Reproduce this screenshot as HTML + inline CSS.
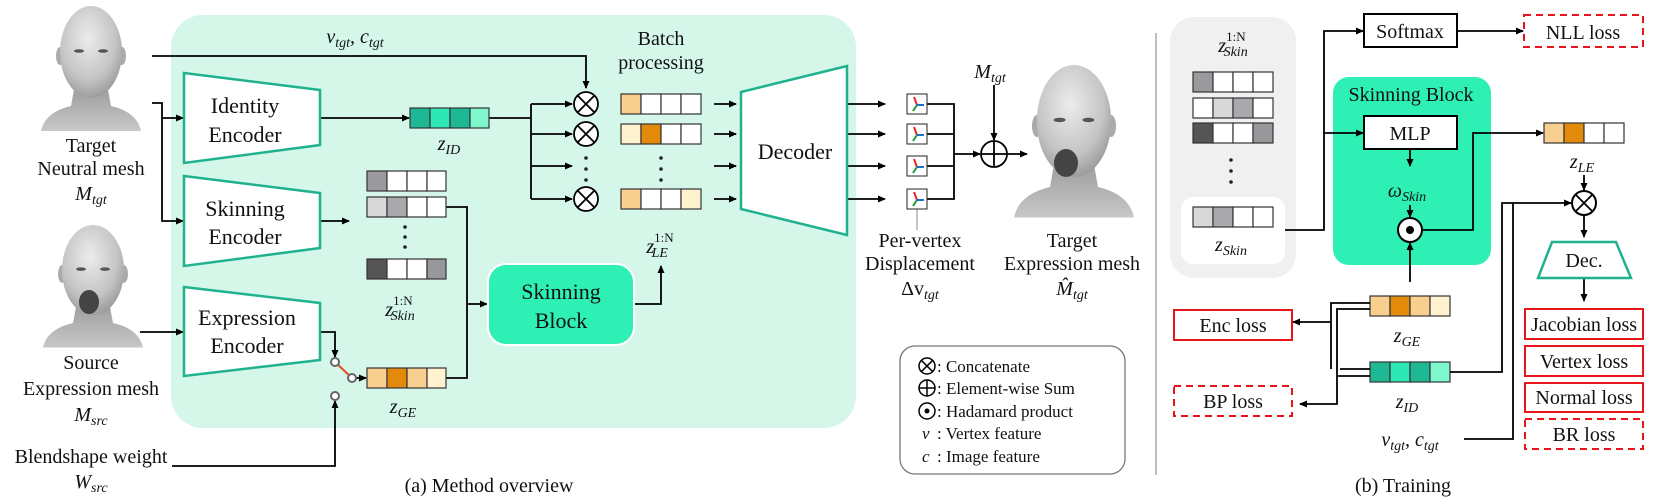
<!DOCTYPE html>
<html><head><meta charset="utf-8"><style>
html,body{margin:0;padding:0;background:#fff;}
svg{display:block;}
text{font-family:"Liberation Serif",serif;fill:#111;}
.i{font-style:italic;}
</style></head><body>
<svg width="1661" height="499" viewBox="0 0 1661 499" xmlns="http://www.w3.org/2000/svg">
<defs>
<marker id="a" markerWidth="8" markerHeight="8" refX="7" refY="4" orient="auto" markerUnits="userSpaceOnUse"><path d="M0,0.5 L8,4 L0,7.5 z" fill="#000"/></marker>
<radialGradient id="hg" cx="0.45" cy="0.35" r="0.75"><stop offset="0" stop-color="#ececec"/><stop offset="0.6" stop-color="#c4c4c4"/><stop offset="1" stop-color="#8a8a8a"/></radialGradient>
<linearGradient id="sg" x1="0" y1="0" x2="0" y2="1"><stop offset="0" stop-color="#9a9a9a"/><stop offset="1" stop-color="#c8c8c8"/></linearGradient>
<g id="head">
<path d="M-50,125 Q-46,106 -20,100 L-16,78 L16,78 L20,100 Q46,106 50,125 Z" fill="url(#sg)"/>
<ellipse cx="-31" cy="50" rx="4" ry="9" fill="#aaa"/><ellipse cx="31" cy="50" rx="4" ry="9" fill="#aaa"/>
<ellipse cx="0" cy="46" rx="31" ry="46" fill="url(#hg)"/>
<ellipse cx="-12" cy="45" rx="5" ry="1.8" fill="#555"/><ellipse cx="12" cy="45" rx="5" ry="1.8" fill="#555"/>
</g>
<g id="disp"><rect x="0" y="0" width="20" height="20" fill="#fff" stroke="#222" stroke-width="1"/><path d="M10,11 L7,3" stroke="#e22" stroke-width="2"/><path d="M10,11 L17,11" stroke="#1a6fd0" stroke-width="2"/><path d="M10,11 L6,17" stroke="#1a9a3a" stroke-width="2"/></g>
</defs>

<!-- green panel -->
<rect x="171" y="15" width="685" height="413" rx="32" fill="#d5f7ea"/>

<!-- heads -->
<use href="#head" x="91" y="6"/>
<use href="#head" transform="translate(93,225) scale(1,0.98)"/>
<ellipse cx="89" cy="302" rx="10" ry="12" fill="#444"/>
<use href="#head" transform="translate(1074,65) scale(1.2,1.22)"/>
<ellipse cx="1066" cy="163" rx="12" ry="14" fill="#444"/>

<!-- left labels -->
<g font-size="20" text-anchor="middle">
<text x="91" y="152">Target</text>
<text x="91" y="175">Neutral mesh</text>
<text x="91" y="200" class="i">M<tspan font-size="14" dy="4">tgt</tspan></text>
<text x="91" y="369">Source</text>
<text x="91" y="395">Expression mesh</text>
<text x="91" y="421" class="i">M<tspan font-size="14" dy="4">src</tspan></text>
<text x="91" y="463">Blendshape weight</text>
<text x="91" y="488" class="i">W<tspan font-size="14" dy="4">src</tspan></text>
</g>

<g stroke="#000" stroke-width="1.8" fill="none">
<path d="M152,56 H586 V88" marker-end="url(#a)"/>
<path d="M152,103 H162 V221 H183" marker-end="url(#a)"/>
<path d="M162,118 H183" marker-end="url(#a)"/>
<path d="M140,332 H183" marker-end="url(#a)"/>
<path d="M320,118 H409" marker-end="url(#a)"/>
<path d="M320,221 H349" marker-end="url(#a)"/>
<path d="M446,207 H467 V378 H446"/>
<path d="M467,304 H487" marker-end="url(#a)"/>
<path d="M320,332 H335 V357" marker-end="url(#a)"/>
<path d="M172,466 H335 V401" marker-end="url(#a)"/>
<path d="M356,378 H366" marker-end="url(#a)"/>
<path d="M634,304 H661 V266" marker-end="url(#a)"/>
<path d="M489,118 H531"/>
<path d="M531,104 V199"/>
<path d="M531,104 H572" marker-end="url(#a)"/>
<path d="M531,134 H572" marker-end="url(#a)"/>
<path d="M531,166 H572" marker-end="url(#a)"/>
<path d="M531,199 H572" marker-end="url(#a)"/>
<path d="M714,104 H736" marker-end="url(#a)"/><path d="M714,134 H736" marker-end="url(#a)"/><path d="M714,166 H736" marker-end="url(#a)"/><path d="M714,199 H736" marker-end="url(#a)"/>
<path d="M847,104 H885" marker-end="url(#a)"/><path d="M847,134 H885" marker-end="url(#a)"/><path d="M847,166 H885" marker-end="url(#a)"/><path d="M847,199 H885" marker-end="url(#a)"/>
<path d="M927,104 H954 V199 H927 M927,134 H954 M927,166 H954"/>
<path d="M954,154 H980" marker-end="url(#a)"/>
<path d="M994,85 V140" marker-end="url(#a)"/>
<path d="M1007,154 H1027" marker-end="url(#a)"/>
</g>
<path d="M917,209 V230" stroke="#888" stroke-width="1"/>
<line x1="335" y1="362" x2="352" y2="378" stroke="#e0502a" stroke-width="2.2"/>
<g fill="#fff" stroke="#666" stroke-width="2"><circle cx="335" cy="362" r="4"/><circle cx="352" cy="378" r="4"/><circle cx="335" cy="396" r="4"/></g>

<g fill="#fff" stroke="#20b28f" stroke-width="2.5">
<path d="M184,73 L320,90 L320,145 L184,163 Z"/>
<path d="M184,176 L320,193 L320,248 L184,266 Z"/>
<path d="M184,287 L320,303 L320,360 L184,376 Z"/>
<path d="M741,92 L847,66 L847,235 L741,209 Z"/>
</g>
<g font-size="22" text-anchor="middle">
<text x="245" y="113">Identity</text><text x="245" y="142">Encoder</text>
<text x="245" y="216">Skinning</text><text x="245" y="244">Encoder</text>
<text x="247" y="325">Expression</text><text x="247" y="353">Encoder</text>
<text x="795" y="159">Decoder</text>
</g>

<g stroke="#333" stroke-width="1.2">
<rect x="410" y="108" width="20" height="20" fill="#1fb894"/><rect x="430" y="108" width="20" height="20" fill="#2de8b4"/><rect x="450" y="108" width="20" height="20" fill="#1fb894"/><rect x="470" y="108" width="19" height="20" fill="#7ff7cc"/>
<rect x="367" y="171" width="20" height="20" fill="#9a9a9e"/><rect x="387" y="171" width="20" height="20" fill="#fff"/><rect x="407" y="171" width="20" height="20" fill="#fff"/><rect x="427" y="171" width="19" height="20" fill="#fff"/>
<rect x="367" y="197" width="20" height="20" fill="#d8d8d8"/><rect x="387" y="197" width="20" height="20" fill="#a9a9ad"/><rect x="407" y="197" width="20" height="20" fill="#fff"/><rect x="427" y="197" width="19" height="20" fill="#fff"/>
<rect x="367" y="259" width="20" height="20" fill="#555"/><rect x="387" y="259" width="20" height="20" fill="#fff"/><rect x="407" y="259" width="20" height="20" fill="#fff"/><rect x="427" y="259" width="19" height="20" fill="#98989c"/>
<rect x="367" y="368" width="20" height="20" fill="#f9cf90"/><rect x="387" y="368" width="20" height="20" fill="#e38a0a"/><rect x="407" y="368" width="20" height="20" fill="#f9cf90"/><rect x="427" y="368" width="19" height="20" fill="#fff2cf"/>
<rect x="621" y="94" width="20" height="20" fill="#f9cf90"/><rect x="641" y="94" width="20" height="20" fill="#fff"/><rect x="661" y="94" width="20" height="20" fill="#fff"/><rect x="681" y="94" width="20" height="20" fill="#fff"/>
<rect x="621" y="124" width="20" height="20" fill="#fff2cf"/><rect x="641" y="124" width="20" height="20" fill="#e38a0a"/><rect x="661" y="124" width="20" height="20" fill="#fff"/><rect x="681" y="124" width="20" height="20" fill="#fff"/>
<rect x="621" y="189" width="20" height="20" fill="#f9cf90"/><rect x="641" y="189" width="20" height="20" fill="#fff"/><rect x="661" y="189" width="20" height="20" fill="#fff"/><rect x="681" y="189" width="20" height="20" fill="#fff2cf"/>
</g>
<g fill="#222"><circle cx="405" cy="227" r="1.8"/><circle cx="405" cy="237" r="1.8"/><circle cx="405" cy="247" r="1.8"/>
<circle cx="661" cy="158" r="1.8"/><circle cx="661" cy="169" r="1.8"/><circle cx="661" cy="180" r="1.8"/>
<circle cx="586" cy="158" r="1.8"/><circle cx="586" cy="169" r="1.8"/><circle cx="586" cy="180" r="1.8"/></g>

<g fill="#fff" stroke="#000" stroke-width="1.8">
<circle cx="586" cy="104" r="12"/><circle cx="586" cy="134" r="12"/><circle cx="586" cy="199" r="12"/>
<circle cx="994" cy="154" r="13"/>
</g>
<g stroke="#000" stroke-width="1.8">
<path d="M577.5,95.5 L594.5,112.5 M594.5,95.5 L577.5,112.5"/>
<path d="M577.5,125.5 L594.5,142.5 M594.5,125.5 L577.5,142.5"/>
<path d="M577.5,190.5 L594.5,207.5 M594.5,190.5 L577.5,207.5"/>
<path d="M981,154 H1007 M994,141 V167"/>
</g>

<use href="#disp" x="907" y="94"/><use href="#disp" x="907" y="124"/><use href="#disp" x="907" y="156"/><use href="#disp" x="907" y="189"/>

<rect x="488" y="264" width="146" height="81" rx="18" fill="#2ef0b4" stroke="#fff" stroke-width="2"/>
<g font-size="22" text-anchor="middle"><text x="561" y="299">Skinning</text><text x="561" y="328">Block</text></g>

<g font-size="20" text-anchor="middle">
<text x="355" y="43" class="i">v<tspan font-size="14" dy="4">tgt</tspan><tspan dy="-4">, c</tspan><tspan font-size="14" dy="4">tgt</tspan></text>
<text x="449" y="150" class="i">z<tspan font-size="14" dy="4">ID</tspan></text>
<text x="400" y="316" class="i">z<tspan font-size="13" dy="-11" font-style="normal">1:N</tspan><tspan font-size="14" dx="-22" dy="15">Skin</tspan></text>
<text x="403" y="413" class="i">z<tspan font-size="14" dy="4">GE</tspan></text>
<text x="661" y="45">Batch</text><text x="661" y="69">processing</text>
<text x="660" y="253" class="i">z<tspan font-size="13" dy="-11" font-style="normal">1:N</tspan><tspan font-size="14" dx="-22" dy="15">LE</tspan></text>
<text x="990" y="78" class="i">M<tspan font-size="14" dy="4">tgt</tspan></text>
<text x="920" y="247">Per-vertex</text><text x="920" y="270">Displacement</text>
<text x="920" y="295">Δv<tspan font-size="14" class="i" dy="4">tgt</tspan></text>
<text x="1072" y="247">Target</text><text x="1072" y="270">Expression mesh</text>
<text x="1072" y="295" class="i">M̂<tspan font-size="14" dy="4">tgt</tspan></text>
<text x="489" y="492">(a) Method overview</text>
<text x="1403" y="492">(b) Training</text>
</g>

<rect x="900" y="346" width="225" height="128" rx="15" fill="#fff" stroke="#777" stroke-width="1.3"/>
<g stroke="#000" stroke-width="1.5" fill="none">
<circle cx="927" cy="366" r="8"/><path d="M921.3,360.3 L932.7,371.7 M932.7,360.3 L921.3,371.7"/>
<circle cx="927" cy="388" r="8"/><path d="M919,388 H935 M927,380 V396"/>
<circle cx="927" cy="411" r="8"/>
</g>
<circle cx="927" cy="411" r="2.5" fill="#000"/>
<g font-size="17"><text x="937" y="372">: Concatenate</text><text x="937" y="394">: Element-wise Sum</text><text x="937" y="417">: Hadamard product</text>
<text x="922" y="439" class="i">v</text><text x="937" y="439">: Vertex feature</text>
<text x="922" y="462" class="i">c</text><text x="937" y="462">: Image feature</text></g>

<line x1="1156" y1="33" x2="1156" y2="475" stroke="#aaa" stroke-width="1.5"/>

<rect x="1170" y="17" width="126" height="261" rx="24" fill="#f0f0f0"/>
<rect x="1181" y="197" width="104" height="67" rx="12" fill="#fff"/>
<rect x="1333" y="77" width="158" height="188" rx="16" fill="#2ef0b4"/>
<g stroke="#333" stroke-width="1.2">
<rect x="1193" y="72" width="20" height="20" fill="#9a9a9e"/><rect x="1213" y="72" width="20" height="20" fill="#fff"/><rect x="1233" y="72" width="20" height="20" fill="#fff"/><rect x="1253" y="72" width="20" height="20" fill="#fff"/>
<rect x="1193" y="98" width="20" height="20" fill="#fff"/><rect x="1213" y="98" width="20" height="20" fill="#d8d8d8"/><rect x="1233" y="98" width="20" height="20" fill="#a9a9ad"/><rect x="1253" y="98" width="20" height="20" fill="#fff"/>
<rect x="1193" y="123" width="20" height="20" fill="#555"/><rect x="1213" y="123" width="20" height="20" fill="#fff"/><rect x="1233" y="123" width="20" height="20" fill="#fff"/><rect x="1253" y="123" width="20" height="20" fill="#98989c"/>
<rect x="1193" y="207" width="20" height="20" fill="#d8d8d8"/><rect x="1213" y="207" width="20" height="20" fill="#a9a9ad"/><rect x="1233" y="207" width="20" height="20" fill="#fff"/><rect x="1253" y="207" width="20" height="20" fill="#fff"/>
<rect x="1544" y="123" width="20" height="20" fill="#f9cf90"/><rect x="1564" y="123" width="20" height="20" fill="#e38a0a"/><rect x="1584" y="123" width="20" height="20" fill="#fff"/><rect x="1604" y="123" width="20" height="20" fill="#fff"/>
<rect x="1370" y="296" width="20" height="20" fill="#f9cf90"/><rect x="1390" y="296" width="20" height="20" fill="#e38a0a"/><rect x="1410" y="296" width="20" height="20" fill="#f9cf90"/><rect x="1430" y="296" width="20" height="20" fill="#fff2cf"/>
<rect x="1370" y="362" width="20" height="20" fill="#1fb894"/><rect x="1390" y="362" width="20" height="20" fill="#2de8b4"/><rect x="1410" y="362" width="20" height="20" fill="#1fb894"/><rect x="1430" y="362" width="20" height="20" fill="#7ff7cc"/>
</g>
<g fill="#222"><circle cx="1231" cy="160" r="1.8"/><circle cx="1231" cy="171" r="1.8"/><circle cx="1231" cy="182" r="1.8"/></g>

<g stroke="#000" stroke-width="1.8" fill="none">
<path d="M1285,230 H1324 V31 H1363" marker-end="url(#a)"/>
<path d="M1324,133 H1363" marker-end="url(#a)"/>
<path d="M1457,31 H1523" marker-end="url(#a)"/>
<path d="M1410,149 V166" marker-end="url(#a)"/>
<path d="M1410,205 V217" marker-end="url(#a)"/>
<path d="M1410,282 V243" marker-end="url(#a)"/>
<path d="M1422,230 H1473 V133 H1543" marker-end="url(#a)"/>
<path d="M1584,175 V190" marker-end="url(#a)"/>
<path d="M1584,216 V237" marker-end="url(#a)"/>
<path d="M1584,278 V301" marker-end="url(#a)"/>
<path d="M1450,372 H1502 V203 H1571" marker-end="url(#a)"/>
<path d="M1464,439 H1513 V203"/>
<path d="M1370,303 H1331 V369"/>
<path d="M1331,322 H1293" marker-end="url(#a)"/>
<path d="M1370,309 H1337 V404 H1300" marker-end="url(#a)"/>
<path d="M1370,369 H1340 M1370,376 H1337"/>
</g>
<g fill="#fff" stroke="#000" stroke-width="2">
<rect x="1364" y="14" width="93" height="33"/>
<rect x="1364" y="116" width="93" height="33"/>
<circle cx="1584" cy="203" r="12"/>
<circle cx="1410" cy="230" r="12"/>
</g>
<path d="M1575.5,194.5 L1592.5,211.5 M1592.5,194.5 L1575.5,211.5" stroke="#000" stroke-width="1.8"/>
<circle cx="1410" cy="230" r="4" fill="#000"/>
<path d="M1552,242 L1616,242 L1631,278 L1538,278 Z" fill="#fff" stroke="#20b28f" stroke-width="2.5"/>
<g fill="#fff" stroke="#e8141c" stroke-width="2">
<rect x="1524" y="15" width="119" height="32" stroke-dasharray="7,5"/>
<rect x="1525" y="309" width="118" height="30"/>
<rect x="1525" y="346" width="118" height="30"/>
<rect x="1525" y="383" width="118" height="29"/>
<rect x="1525" y="419" width="118" height="30" stroke-dasharray="7,5"/>
<rect x="1174" y="310" width="118" height="30"/>
<rect x="1174" y="386" width="118" height="30" stroke-dasharray="7,5"/>
</g>
<g font-size="20" text-anchor="middle">
<text x="1233" y="52" class="i">z<tspan font-size="13" dy="-11" font-style="normal">1:N</tspan><tspan font-size="14" dx="-22" dy="15">Skin</tspan></text>
<text x="1231" y="251" class="i">z<tspan font-size="14" dy="4">Skin</tspan></text>
<text x="1410" y="38">Softmax</text>
<text x="1583" y="39">NLL loss</text>
<text x="1411" y="101">Skinning Block</text>
<text x="1410" y="140">MLP</text>
<text x="1407" y="197" class="i">ω<tspan font-size="14" dy="4">Skin</tspan></text>
<text x="1582" y="168" class="i">z<tspan font-size="14" dy="4">LE</tspan></text>
<text x="1584" y="267">Dec.</text>
<text x="1584" y="331">Jacobian loss</text>
<text x="1584" y="368">Vertex loss</text>
<text x="1584" y="404">Normal loss</text>
<text x="1584" y="441">BR loss</text>
<text x="1233" y="332">Enc loss</text>
<text x="1233" y="408">BP loss</text>
<text x="1407" y="342" class="i">z<tspan font-size="14" dy="4">GE</tspan></text>
<text x="1407" y="408" class="i">z<tspan font-size="14" dy="4">ID</tspan></text>
<text x="1410" y="446" class="i">v<tspan font-size="14" dy="4">tgt</tspan><tspan dy="-4">, c</tspan><tspan font-size="14" dy="4">tgt</tspan></text>
</g>
</svg>
</body></html>
